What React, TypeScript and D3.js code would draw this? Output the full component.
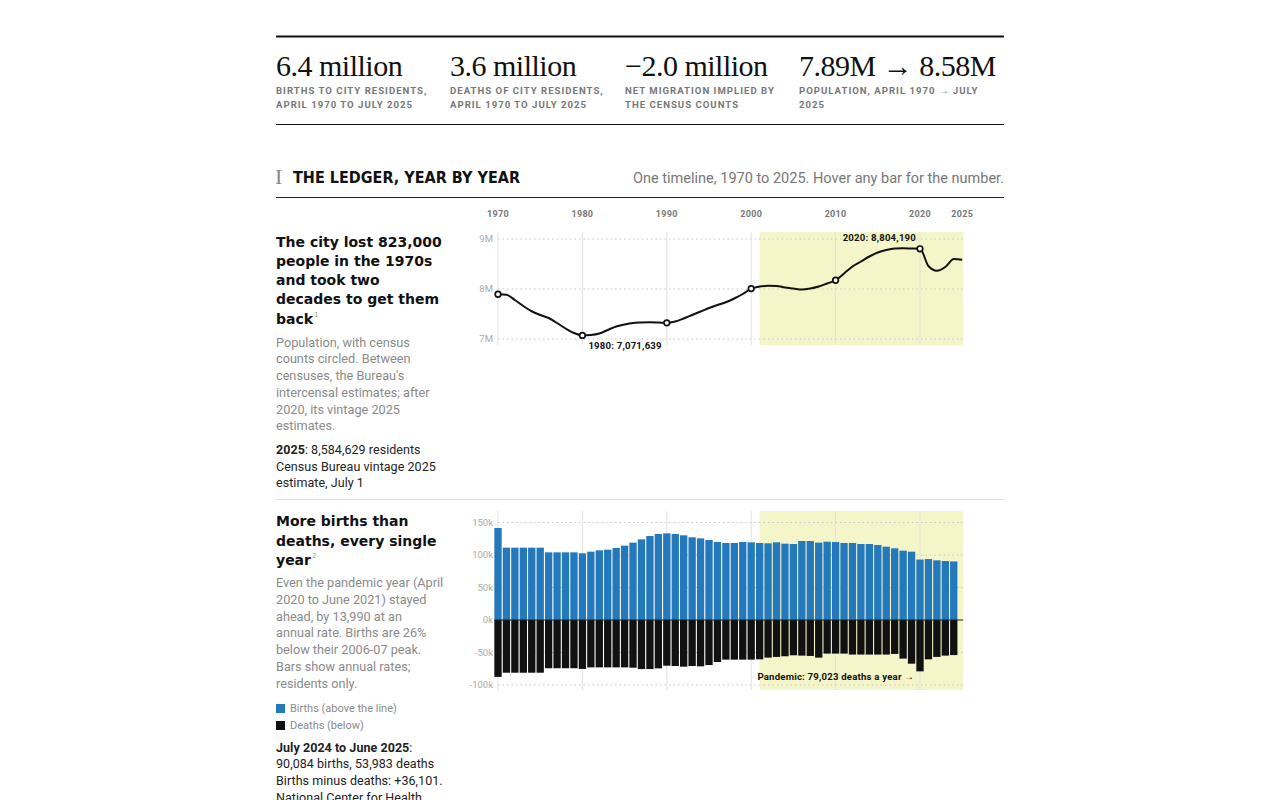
import React from "react";
import * as d3 from "d3";

// ---------- data ----------
const statValues = ["6.4 million", "3.6 million", "\u22122.0 million", "7.89M \u2192 8.58M"];
const statLabels = [
  ["BIRTHS TO CITY RESIDENTS,", "APRIL 1970 TO JULY 2025"],
  ["DEATHS OF CITY RESIDENTS,", "APRIL 1970 TO JULY 2025"],
  ["NET MIGRATION IMPLIED BY", "THE CENSUS COUNTS"],
  ["POPULATION, APRIL 1970 \u2192 JULY", "2025"],
];

const axisYears = [1970, 1980, 1990, 2000, 2010, 2020, 2025];
const gridYears = [1970, 1980, 1990, 2000, 2010, 2020];

const popYears = [
  1970, 1971, 1972, 1973, 1974, 1975, 1976, 1977, 1978, 1979,
  1980, 1981, 1982, 1983, 1984, 1985, 1986, 1987, 1988, 1989,
  1990, 1991, 1992, 1993, 1994, 1995, 1996, 1997, 1998, 1999,
  2000, 2001, 2002, 2003, 2004, 2005, 2006, 2007, 2008, 2009,
  2010, 2011, 2012, 2013, 2014, 2015, 2016, 2017, 2018, 2019,
  2020, 2021, 2022, 2023, 2024, 2025,
];
// thousands of residents
const popValues = [
  7894.9, 7885, 7780, 7660, 7555, 7480, 7420, 7320, 7210, 7120,
  7071.6, 7080, 7110, 7180, 7250, 7290, 7320, 7330, 7335, 7330,
  7322.6, 7350, 7410, 7480, 7550, 7620, 7680, 7735, 7810, 7900,
  8008.3, 8050, 8065, 8060, 8030, 8010, 7990, 8010, 8050, 8110,
  8175.1, 8310, 8450, 8550, 8650, 8730, 8780, 8810, 8815, 8810,
  8804.2, 8460, 8365, 8440, 8600, 8584.6,
];

const censusYears = [1970, 1980, 1990, 2000, 2010, 2020];
const censusValues = [7894.862, 7071.639, 7322.564, 8008.278, 8175.133, 8804.19];

const popTicks = [9000, 8000, 7000];
const popTickLabels = ["9M", "8M", "7M"];

const barYears = [
  1970, 1971, 1972, 1973, 1974, 1975, 1976, 1977, 1978, 1979,
  1980, 1981, 1982, 1983, 1984, 1985, 1986, 1987, 1988, 1989,
  1990, 1991, 1992, 1993, 1994, 1995, 1996, 1997, 1998, 1999,
  2000, 2001, 2002, 2003, 2004, 2005, 2006, 2007, 2008, 2009,
  2010, 2011, 2012, 2013, 2014, 2015, 2016, 2017, 2018, 2019,
  2020, 2021, 2022, 2023, 2024,
];
// thousands per year
const births = [
  141.5, 111.3, 111.3, 111.3, 111.3, 111.3, 104.1, 104.1, 104.1, 104.1,
  102.6, 105.1, 107.2, 108.2, 110.8, 114.4, 119.0, 124.1, 129.2, 132.3,
  133.3, 132.3, 130.3, 127.2, 125.6, 123.1, 120.0, 118.5, 118.5, 120.0,
  119.5, 118.5, 118.0, 119.5, 117.4, 116.9, 121.5, 121.5, 119.0, 120.5,
  120.0, 118.5, 118.5, 116.9, 116.9, 115.4, 112.8, 110.3, 106.7, 105.1,
  93.0, 93.8, 91.8, 90.8, 90.084,
];
const deaths = [
  87.5, 81.1, 81.1, 81.1, 81.1, 81.1, 74.2, 74.2, 74.2, 74.2,
  75.3, 72.9, 72.9, 72.9, 72.9, 72.9, 73.4, 75.5, 75.5, 74.4,
  70.3, 70.8, 71.8, 70.8, 71.3, 69.3, 64.6, 61.0, 61.0, 61.0,
  61.0, 60.5, 57.9, 56.8, 55.8, 54.3, 54.8, 55.3, 57.9, 51.7,
  51.7, 51.7, 53.2, 53.2, 53.2, 53.2, 53.2, 52.2, 59.4, 67.2,
  79.023, 60.5, 56.8, 54.8, 53.983,
];
const barTicks = [150, 100, 50, 0, -50, -100];

// ---------- style ----------
const SANS = "Roboto, 'Liberation Sans', Arial, sans-serif";
const HEAD = "'DejaVu Sans', Verdana, sans-serif";
const SERIF = "'Liberation Serif', 'Times New Roman', serif";
const NARROW = "'Liberation Sans Narrow', Roboto, sans-serif";
const BLUE = "#2479bd";
const SHADE = "#f4f6c9";
const GRAY_TXT = "#8a8a8a";

const LEFT = 276;
const RIGHT = 1004;

export default function App() {
  const x = d3.scaleLinear().domain([1970, 2020]).range([498, 920]);
  const plotLeft = x(1970);
  const plotRight = x(2025) + 1;
  const shadeStart = x(2001);

  const L_TOP = 232, L_BOT = 345;
  const yPop = d3.scaleLinear().domain([7000, 9000]).range([339, 239]);

  const B_TOP = 511, B_BOT = 690;
  const yBar = d3.scaleLinear().domain([-100, 150]).range([685, 522.5]);

  const line = d3
    .line<number>()
    .x((_, i) => x(popYears[i]))
    .y((d) => yPop(d))
    .curve(d3.curveMonotoneX);

  const step = x(1971) - x(1970);
  const bw = step * 0.87;

  const colX = [276, 450, 625, 799];

  const body = (lines: string[], x0: number, y0: number, lh: number) =>
    lines.map((t, i) => (
      <text key={i} x={x0} y={y0 + i * lh} fontFamily={SANS} fontSize={12.7} fill={GRAY_TXT}>
        {t}
      </text>
    ));

  const annot = { fontFamily: SANS, fontWeight: 700, fontSize: 9.6, fill: "#111", letterSpacing: 0.2 } as const;
  const dark = { fontFamily: SANS, fontSize: 12.5, fill: "#222", letterSpacing: 0.05 } as const;

  return (
    <svg width={1280} height={800} style={{ position: "absolute", left: 0, top: 0, background: "#fff" }}>
      {/* top stats */}
      <line x1={LEFT} x2={RIGHT} y1={36.5} y2={36.5} stroke="#111" strokeWidth={2.2} />
      {statValues.map((v, i) => (
        <text key={"sv" + i} x={colX[i]} y={76} fontFamily={SERIF} fontSize={30} fill="#111" letterSpacing={-0.5}>
          {v}
        </text>
      ))}
      {statLabels.map((ls, i) =>
        ls.map((l, j) => (
          <text
            key={"sl" + i + j}
            x={colX[i]}
            y={94 + j * 13.8}
            fontFamily={SANS}
            fontWeight={700}
            fontSize={9.6}
            letterSpacing={1}
            fill="#777"
          >
            {l}
          </text>
        ))
      )}
      <line x1={LEFT} x2={RIGHT} y1={124.5} y2={124.5} stroke="#111" strokeWidth={1.2} />

      {/* section header */}
      <text x={275} y={184} fontFamily={SERIF} fontSize={22} fill="#888">I</text>
      <text x={293} y={183} fontFamily={HEAD} fontWeight={700} fontSize={15} fill="#111" textLength={227} lengthAdjust="spacingAndGlyphs">
        THE LEDGER, YEAR BY YEAR
      </text>
      <text x={RIGHT} y={183} textAnchor="end" fontFamily={NARROW} fontSize={14} fill="#777" textLength={371} lengthAdjust="spacingAndGlyphs">
        One timeline, 1970 to 2025. Hover any bar for the number.
      </text>
      <line x1={LEFT} x2={RIGHT} y1={197.5} y2={197.5} stroke="#222" strokeWidth={1} />

      {/* year axis */}
      {axisYears.map((yr) => (
        <text key={"ax" + yr} x={x(yr)} y={216.5} textAnchor="middle" fontFamily={SANS} fontWeight={700} fontSize={9} fill="#777" letterSpacing={0.3}>
          {yr}
        </text>
      ))}

      {/* ---- section 1 text ---- */}
      {["The city lost 823,000", "people in the 1970s", "and took two", "decades to get them"].map((t, i) => (
        <text key={"h1" + i} x={LEFT} y={246.5 + i * 19.3} fontFamily={HEAD} fontWeight={700} fontSize={14} fill="#111">
          {t}
        </text>
      ))}
      <text x={LEFT} y={324} fontFamily={HEAD} fontWeight={700} fontSize={14} fill="#111">
        back
        <tspan dx={1} dy={-7} fontSize={7} fontWeight={400} fill="#999">1</tspan>
      </text>
      {body(
        ["Population, with census", "counts circled. Between", "censuses, the Bureau's", "intercensal estimates; after", "2020, its vintage 2025", "estimates."],
        LEFT, 346.7, 16.7
      )}
      <text x={LEFT} y={454.3} {...dark}>
        <tspan fontWeight={700}>2025</tspan>: 8,584,629 residents
      </text>
      <text x={LEFT} y={470.8} {...dark}>Census Bureau vintage 2025</text>
      <text x={LEFT} y={487.3} {...dark}>estimate, July 1</text>

      {/* ---- line chart ---- */}
      <rect x={shadeStart} y={L_TOP} width={plotRight - shadeStart} height={L_BOT - L_TOP} fill={SHADE} />
      {gridYears.map((yr) => (
        <line key={"lg" + yr} x1={x(yr)} x2={x(yr)} y1={L_TOP} y2={L_BOT} stroke="#e2e2e2" strokeWidth={1} />
      ))}
      {popTicks.map((t, i) => (
        <g key={"pt" + t}>
          <line x1={plotLeft} x2={plotRight} y1={yPop(t)} y2={yPop(t)} stroke="#c8c8c8" strokeWidth={1} strokeDasharray="1.5,3" />
          <text x={493} y={yPop(t) + 3.3} textAnchor="end" fontFamily={SANS} fontSize={9.5} fill="#aaa">
            {popTickLabels[i]}
          </text>
        </g>
      ))}
      <path d={line(popValues) || ""} fill="none" stroke="#111" strokeWidth={2} strokeLinejoin="round" />
      {censusYears.map((yr, i) => (
        <circle key={"cc" + yr} cx={x(yr)} cy={yPop(censusValues[i])} r={2.8} fill="#fff" stroke="#111" strokeWidth={1.7} />
      ))}
      <text x={x(1980) + 6} y={yPop(censusValues[1]) + 13.5} {...annot}>
        1980: 7,071,639
      </text>
      <text x={x(2020) - 4} y={yPop(censusValues[5]) - 7.5} textAnchor="end" {...annot}>
        2020: 8,804,190
      </text>

      {/* separator */}
      <line x1={LEFT} x2={RIGHT} y1={499.5} y2={499.5} stroke="#ddd" strokeWidth={1} />

      {/* ---- section 2 text ---- */}
      {["More births than", "deaths, every single"].map((t, i) => (
        <text key={"h2" + i} x={LEFT} y={526.3 + i * 19.3} fontFamily={HEAD} fontWeight={700} fontSize={14} fill="#111">
          {t}
        </text>
      ))}
      <text x={LEFT} y={565} fontFamily={HEAD} fontWeight={700} fontSize={14} fill="#111">
        year
        <tspan dx={1} dy={-7} fontSize={7} fontWeight={400} fill="#999">2</tspan>
      </text>
      {body(
        ["Even the pandemic year (April", "2020 to June 2021) stayed", "ahead, by 13,990 at an", "annual rate. Births are 26%", "below their 2006-07 peak.", "Bars show annual rates;", "residents only."],
        LEFT, 587.3, 16.7
      )}
      <rect x={276} y={704} width={9} height={9} fill={BLUE} />
      <text x={290} y={711.5} fontFamily={SANS} fontSize={11} fill={GRAY_TXT}>Births (above the line)</text>
      <rect x={276} y={721} width={9} height={9} fill="#111" />
      <text x={290} y={728.5} fontFamily={SANS} fontSize={11} fill={GRAY_TXT}>Deaths (below)</text>
      <text x={LEFT} y={751.7} {...dark}>
        <tspan fontWeight={700}>July 2024 to June 2025</tspan>:
      </text>
      <text x={LEFT} y={768.3} {...dark}>90,084 births, 53,983 deaths</text>
      <text x={LEFT} y={785} {...dark}>Births minus deaths: +36,101.</text>
      <text x={LEFT} y={801.6} {...dark}>National Center for Health</text>

      {/* ---- bar chart ---- */}
      <rect x={shadeStart} y={B_TOP} width={plotRight - shadeStart} height={B_BOT - B_TOP} fill={SHADE} />
      {gridYears.map((yr) => (
        <line key={"bg" + yr} x1={x(yr)} x2={x(yr)} y1={B_TOP} y2={B_BOT} stroke="#e2e2e2" strokeWidth={1} />
      ))}
      {barTicks.map((t) => (
        <g key={"bt" + t}>
          {t !== 0 && (
            <line x1={plotLeft} x2={plotRight} y1={yBar(t)} y2={yBar(t)} stroke="#c8c8c8" strokeWidth={1} strokeDasharray="1.5,3" />
          )}
          <text x={493} y={yBar(t) + 3.3} textAnchor="end" fontFamily={SANS} fontSize={9.5} fill="#aaa">
            {t + "k"}
          </text>
        </g>
      ))}
      {barYears.map((yr, i) => (
        <g key={"b" + yr}>
          <rect x={x(yr) - bw / 2} y={yBar(births[i])} width={bw} height={yBar(0) - yBar(births[i])} fill={BLUE} />
          <rect x={x(yr) - bw / 2} y={yBar(0)} width={bw} height={yBar(-deaths[i]) - yBar(0)} fill="#111" />
        </g>
      ))}
      <line x1={x(1970) - bw / 2} x2={plotRight} y1={yBar(0)} y2={yBar(0)} stroke="#222" strokeWidth={1} />
      <text x={x(2020) - 6} y={yBar(-deaths[50]) + 9} textAnchor="end" {...annot}>
        Pandemic: 79,023 deaths a year {"\u2192"}
      </text>
    </svg>
  );
}
